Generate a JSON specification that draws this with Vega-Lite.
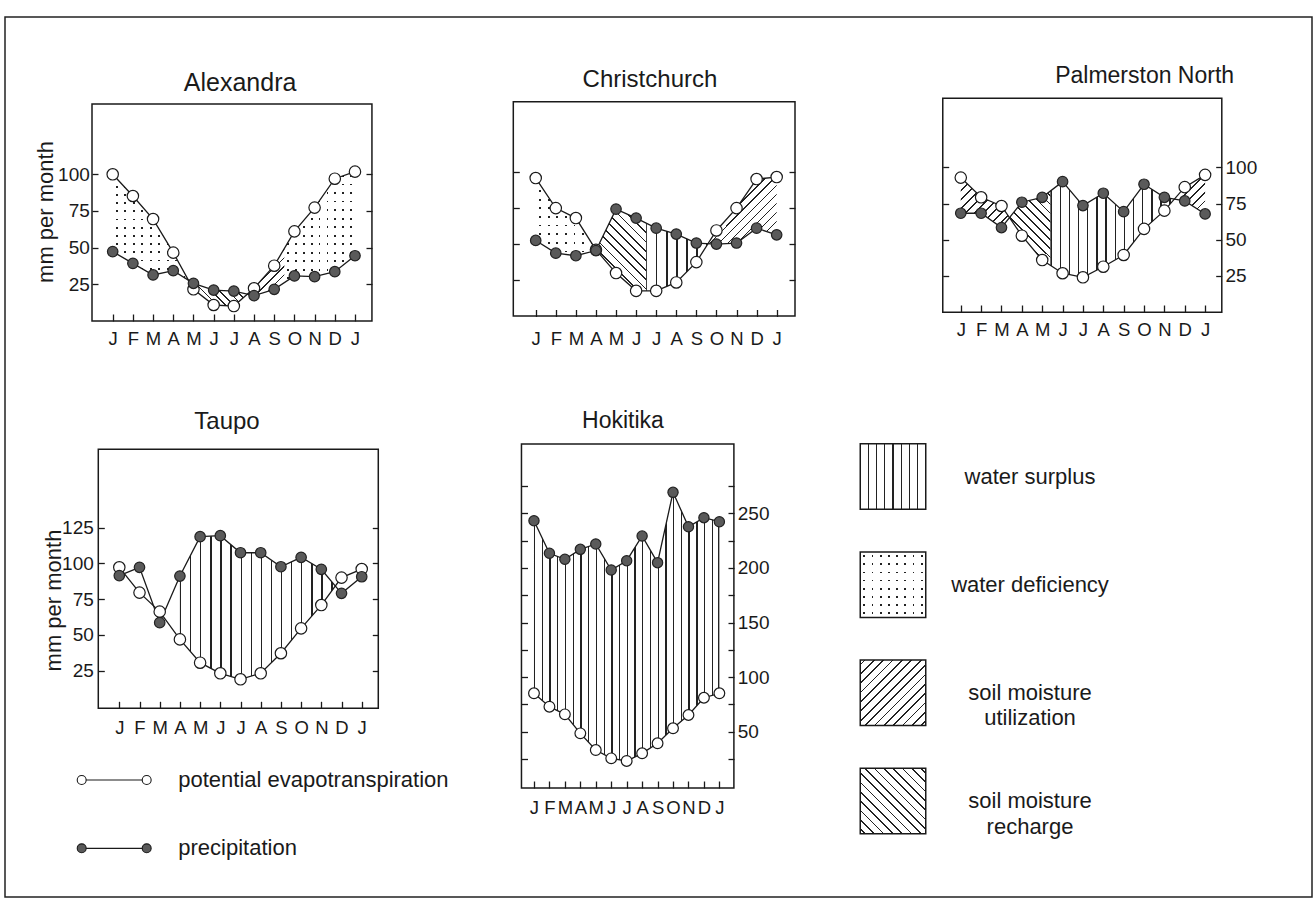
{
"$schema":"https://vega.github.io/schema/vega-lite/v6.json",
"width":1307,"height":880,
"autosize":{"type":"none"},
"padding":{"left":5,"top":17,"right":4,"bottom":2},
"background":"white",
"config":{
 "view":{"stroke":"#222","strokeWidth":1.5},
 "font":"Liberation Sans",
 "axis":{"domain":false,"grid":false,"tickColor":"#1a1a1a","tickWidth":1.3,"labelColor":"#1a1a1a","labelFont":"Liberation Sans","labelFontSize":19,"labelOverlap":false,"labelFlush":false,"titleColor":"#1a1a1a","titleFont":"Liberation Sans","titleFontWeight":"normal"},
 "axisX":{"labelFontSize":18.5},
 "text":{"color":"#1a1a1a","font":"Liberation Sans"}
},
"datasets":{
 "aDef":[{"z":"a1","m":0,"hi":100,"lo":47.3},{"z":"a1","m":1,"hi":85.2,"lo":39.3},{"z":"a1","m":2,"hi":69.5,"lo":31.4},{"z":"a1","m":3,"hi":46.6,"lo":34.3},{"z":"a1","m":3.77,"hi":27.2,"lo":27.2},{"z":"a4","m":8.5,"hi":49.4,"lo":26.2},{"z":"a4","m":9,"hi":61.1,"lo":30.7},{"z":"a4","m":10,"hi":77.3,"lo":30.2},{"z":"a4","m":11,"hi":97,"lo":33.6},{"z":"a4","m":12,"hi":101.8,"lo":44.5}],
 "cDef":[{"m":0,"hi":95.6,"lo":52.4},{"m":1,"hi":74.8,"lo":43.6},{"m":2,"hi":67.9,"lo":41.8},{"m":3,"hi":45.9,"lo":45.4}]
},
"layer":[
{
 "data":{"values":[{"m":0,"P":47.3,"PE":100},{"m":1,"P":39.3,"PE":85.2},{"m":2,"P":31.4,"PE":69.5},{"m":3,"P":34.3,"PE":46.6},{"m":4,"P":25.7,"PE":21.6},{"m":5,"P":21.1,"PE":10.9},{"m":6,"P":20.4,"PE":10.2},{"m":7,"P":17.3,"PE":22.3},{"m":8,"P":21.6,"PE":37.7},{"m":9,"P":30.7,"PE":61.1},{"m":10,"P":30.2,"PE":77.3},{"m":11,"P":33.6,"PE":97},{"m":12,"P":44.5,"PE":101.8}]},
 "layer":[
  {"data":{"values":[{"name":"Alexandra"}]},"mark":{"type":"rect","filled":false,"stroke":"#1a1a1a","strokeWidth":1.5},
   "encoding":{
    "x":{"datum":-1.025,"type":"quantitative","scale":{"domain":[-5.334,59.4],"nice":false,"zero":false},"axis":{"orient":"bottom","offset":-576,"values":[0,1,2,3,4,5,6,7,8,9,10,11,12],"labelExpr":"['J','F','M','A','M','J','J','A','S','O','N','D','J'][datum.value]","tickSize":-7,"labelPadding":15,"title":null}},
    "x2":{"datum":12.84},
    "y":{"datum":0,"type":"quantitative","scale":{"domain":[-392.64,207.23],"nice":false,"zero":false},"axis":{"orient":"left","offset":-87,"values":[25,50,75,100],"tickSize":-6,"labelPadding":8.7,"title":"mm per month","titleX":-40,"titleY":194.5,"titleAngle":270,"titleBaseline":"alphabetic","titleAlign":"center","titleFontSize":22}},
    "y2":{"datum":148}}},
  {"data":{"name":"aDef"},"mark":{"type":"area","opacity":1,"fill":{"gradient":"linear","x1":0,"y1":0,"x2":1,"y2":0,"stops":[{"offset":0,"color":"#fff"},{"offset":0.0436,"color":"#fff"},{"offset":0.0436,"color":"#222"},{"offset":0.0676,"color":"#222"},{"offset":0.0676,"color":"#fff"},{"offset":0.1547,"color":"#fff"},{"offset":0.1547,"color":"#222"},{"offset":0.1787,"color":"#222"},{"offset":0.1787,"color":"#fff"},{"offset":0.2658,"color":"#fff"},{"offset":0.2658,"color":"#222"},{"offset":0.2898,"color":"#222"},{"offset":0.2898,"color":"#fff"},{"offset":0.3769,"color":"#fff"},{"offset":0.3769,"color":"#222"},{"offset":0.4009,"color":"#222"},{"offset":0.4009,"color":"#fff"},{"offset":0.488,"color":"#fff"},{"offset":0.488,"color":"#222"},{"offset":0.512,"color":"#222"},{"offset":0.512,"color":"#fff"},{"offset":0.5991,"color":"#fff"},{"offset":0.5991,"color":"#222"},{"offset":0.6231,"color":"#222"},{"offset":0.6231,"color":"#fff"},{"offset":0.7102,"color":"#fff"},{"offset":0.7102,"color":"#222"},{"offset":0.7342,"color":"#222"},{"offset":0.7342,"color":"#fff"},{"offset":0.8213,"color":"#fff"},{"offset":0.8213,"color":"#222"},{"offset":0.8453,"color":"#222"},{"offset":0.8453,"color":"#fff"},{"offset":0.9324,"color":"#fff"},{"offset":0.9324,"color":"#222"},{"offset":0.9564,"color":"#222"},{"offset":0.9564,"color":"#fff"},{"offset":1,"color":"#fff"}]}},
   "encoding":{"x":{"field":"m","type":"quantitative","axis":null},"y":{"field":"hi","type":"quantitative","axis":null},"y2":{"field":"lo"},"detail":{"field":"z"}}},
  {"data":{"name":"aDef"},"mark":{"type":"area","opacity":1,"fill":{"gradient":"linear","x1":0,"y1":0,"x2":0,"y2":1,"stops":[{"offset":0,"color":"#fff"},{"offset":0.03,"color":"#fff"},{"offset":0.03,"color":"rgba(255,255,255,0)"},{"offset":0.047,"color":"rgba(255,255,255,0)"},{"offset":0.047,"color":"#fff"},{"offset":0.1069,"color":"#fff"},{"offset":0.1069,"color":"rgba(255,255,255,0)"},{"offset":0.1239,"color":"rgba(255,255,255,0)"},{"offset":0.1239,"color":"#fff"},{"offset":0.1838,"color":"#fff"},{"offset":0.1838,"color":"rgba(255,255,255,0)"},{"offset":0.2008,"color":"rgba(255,255,255,0)"},{"offset":0.2008,"color":"#fff"},{"offset":0.2607,"color":"#fff"},{"offset":0.2607,"color":"rgba(255,255,255,0)"},{"offset":0.2777,"color":"rgba(255,255,255,0)"},{"offset":0.2777,"color":"#fff"},{"offset":0.3377,"color":"#fff"},{"offset":0.3377,"color":"rgba(255,255,255,0)"},{"offset":0.3547,"color":"rgba(255,255,255,0)"},{"offset":0.3547,"color":"#fff"},{"offset":0.4146,"color":"#fff"},{"offset":0.4146,"color":"rgba(255,255,255,0)"},{"offset":0.4316,"color":"rgba(255,255,255,0)"},{"offset":0.4316,"color":"#fff"},{"offset":0.4915,"color":"#fff"},{"offset":0.4915,"color":"rgba(255,255,255,0)"},{"offset":0.5085,"color":"rgba(255,255,255,0)"},{"offset":0.5085,"color":"#fff"},{"offset":0.5684,"color":"#fff"},{"offset":0.5684,"color":"rgba(255,255,255,0)"},{"offset":0.5854,"color":"rgba(255,255,255,0)"},{"offset":0.5854,"color":"#fff"},{"offset":0.6453,"color":"#fff"},{"offset":0.6453,"color":"rgba(255,255,255,0)"},{"offset":0.6623,"color":"rgba(255,255,255,0)"},{"offset":0.6623,"color":"#fff"},{"offset":0.7223,"color":"#fff"},{"offset":0.7223,"color":"rgba(255,255,255,0)"},{"offset":0.7393,"color":"rgba(255,255,255,0)"},{"offset":0.7393,"color":"#fff"},{"offset":0.7992,"color":"#fff"},{"offset":0.7992,"color":"rgba(255,255,255,0)"},{"offset":0.8162,"color":"rgba(255,255,255,0)"},{"offset":0.8162,"color":"#fff"},{"offset":0.8761,"color":"#fff"},{"offset":0.8761,"color":"rgba(255,255,255,0)"},{"offset":0.8931,"color":"rgba(255,255,255,0)"},{"offset":0.8931,"color":"#fff"},{"offset":0.953,"color":"#fff"},{"offset":0.953,"color":"rgba(255,255,255,0)"},{"offset":0.97,"color":"rgba(255,255,255,0)"},{"offset":0.97,"color":"#fff"},{"offset":1,"color":"#fff"}]}},
   "encoding":{"x":{"field":"m","type":"quantitative","axis":null},"y":{"field":"hi","type":"quantitative","axis":null},"y2":{"field":"lo"},"detail":{"field":"z"}}},
  {"data":{"values":[{"m":3.77,"hi":27.2,"lo":27.2},{"m":4,"hi":25.7,"lo":21.6},{"m":5,"hi":21.1,"lo":10.9},{"m":6,"hi":20.4,"lo":10.2},{"m":6.67,"hi":18.3,"lo":18.3}]},
   "mark":{"type":"area","opacity":1,"fill":{"gradient":"linear","x1":0,"y1":1,"x2":1.207,"y2":0.485,"stops":[{"offset":0,"color":"#fff"},{"offset":0.04,"color":"#fff"},{"offset":0.04,"color":"#222"},{"offset":0.06,"color":"#222"},{"offset":0.06,"color":"#fff"},{"offset":0.14,"color":"#fff"},{"offset":0.14,"color":"#222"},{"offset":0.16,"color":"#222"},{"offset":0.16,"color":"#fff"},{"offset":0.24,"color":"#fff"},{"offset":0.24,"color":"#222"},{"offset":0.26,"color":"#222"},{"offset":0.26,"color":"#fff"},{"offset":0.34,"color":"#fff"},{"offset":0.34,"color":"#222"},{"offset":0.36,"color":"#222"},{"offset":0.36,"color":"#fff"},{"offset":0.44,"color":"#fff"},{"offset":0.44,"color":"#222"},{"offset":0.46,"color":"#222"},{"offset":0.46,"color":"#fff"},{"offset":0.54,"color":"#fff"},{"offset":0.54,"color":"#222"},{"offset":0.56,"color":"#222"},{"offset":0.56,"color":"#fff"},{"offset":0.64,"color":"#fff"},{"offset":0.64,"color":"#222"},{"offset":0.66,"color":"#222"},{"offset":0.66,"color":"#fff"},{"offset":0.74,"color":"#fff"},{"offset":0.74,"color":"#222"},{"offset":0.76,"color":"#222"},{"offset":0.76,"color":"#fff"},{"offset":0.84,"color":"#fff"},{"offset":0.84,"color":"#222"},{"offset":0.86,"color":"#222"},{"offset":0.86,"color":"#fff"},{"offset":0.94,"color":"#fff"},{"offset":0.94,"color":"#222"},{"offset":0.96,"color":"#222"},{"offset":0.96,"color":"#fff"},{"offset":1,"color":"#fff"}]}},
   "encoding":{"x":{"field":"m","type":"quantitative","axis":null},"y":{"field":"hi","type":"quantitative","axis":null},"y2":{"field":"lo"}}},
  {"data":{"values":[{"m":6.67,"hi":18.3,"lo":18.3},{"m":7,"hi":22.3,"lo":17.3},{"m":8,"hi":37.7,"lo":21.6},{"m":8.5,"hi":49.4,"lo":26.2}]},
   "mark":{"type":"area","opacity":1,"fill":{"gradient":"linear","x1":0,"y1":0,"x2":0.868,"y2":1.104,"stops":[{"offset":0,"color":"#fff"},{"offset":0.04,"color":"#fff"},{"offset":0.04,"color":"#222"},{"offset":0.06,"color":"#222"},{"offset":0.06,"color":"#fff"},{"offset":0.14,"color":"#fff"},{"offset":0.14,"color":"#222"},{"offset":0.16,"color":"#222"},{"offset":0.16,"color":"#fff"},{"offset":0.24,"color":"#fff"},{"offset":0.24,"color":"#222"},{"offset":0.26,"color":"#222"},{"offset":0.26,"color":"#fff"},{"offset":0.34,"color":"#fff"},{"offset":0.34,"color":"#222"},{"offset":0.36,"color":"#222"},{"offset":0.36,"color":"#fff"},{"offset":0.44,"color":"#fff"},{"offset":0.44,"color":"#222"},{"offset":0.46,"color":"#222"},{"offset":0.46,"color":"#fff"},{"offset":0.54,"color":"#fff"},{"offset":0.54,"color":"#222"},{"offset":0.56,"color":"#222"},{"offset":0.56,"color":"#fff"},{"offset":0.64,"color":"#fff"},{"offset":0.64,"color":"#222"},{"offset":0.66,"color":"#222"},{"offset":0.66,"color":"#fff"},{"offset":0.74,"color":"#fff"},{"offset":0.74,"color":"#222"},{"offset":0.76,"color":"#222"},{"offset":0.76,"color":"#fff"},{"offset":0.84,"color":"#fff"},{"offset":0.84,"color":"#222"},{"offset":0.86,"color":"#222"},{"offset":0.86,"color":"#fff"},{"offset":0.94,"color":"#fff"},{"offset":0.94,"color":"#222"},{"offset":0.96,"color":"#222"},{"offset":0.96,"color":"#fff"},{"offset":1,"color":"#fff"}]}},
   "encoding":{"x":{"field":"m","type":"quantitative","axis":null},"y":{"field":"hi","type":"quantitative","axis":null},"y2":{"field":"lo"}}},
  {"mark":{"type":"line","color":"#1a1a1a","strokeWidth":1.3},"encoding":{"x":{"field":"m","type":"quantitative","axis":null},"y":{"field":"PE","type":"quantitative","axis":null}}},
  {"mark":{"type":"line","color":"#1a1a1a","strokeWidth":1.3},"encoding":{"x":{"field":"m","type":"quantitative","axis":null},"y":{"field":"P","type":"quantitative","axis":{"orient":"right","offset":-940,"values":[25,50,75,100],"tickSize":-6,"labels":false,"title":null}}}},
  {"mark":{"type":"point","shape":"circle","filled":true,"fill":"#fff","stroke":"#1a1a1a","strokeWidth":1.2,"size":130,"opacity":1},"encoding":{"x":{"field":"m","type":"quantitative","axis":null},"y":{"field":"PE","type":"quantitative","axis":null}}},
  {"mark":{"type":"point","shape":"circle","filled":true,"fill":"#5a5a5a","stroke":"#222","strokeWidth":1.2,"size":110,"opacity":1},"encoding":{"x":{"field":"m","type":"quantitative","axis":null},"y":{"field":"P","type":"quantitative","axis":null}}},
  {"data":{"values":[{"name":"Alexandra"}]},"mark":{"type":"text","fontSize":25,"align":"center","baseline":"middle"},"encoding":{"x":{"datum":6.31,"type":"quantitative","axis":null},"y":{"datum":162.2,"type":"quantitative","axis":null},"text":{"field":"name"}}}
 ],
 "resolve":{"axis":{"x":"independent","y":"independent"}}
},
{
 "data":{"values":[{"m":0,"P":52.4,"PE":95.6},{"m":1,"P":43.6,"PE":74.8},{"m":2,"P":41.8,"PE":67.9},{"m":3,"P":45.4,"PE":45.9},{"m":4,"P":74.1,"PE":29.8},{"m":5,"P":67.9,"PE":17.5},{"m":6,"P":60.9,"PE":17.5},{"m":7,"P":56.8,"PE":23.3},{"m":8,"P":50.6,"PE":37.4},{"m":9,"P":49.9,"PE":59.3},{"m":10,"P":50.6,"PE":74.8},{"m":11,"P":60.9,"PE":94.9},{"m":12,"P":56.3,"PE":96.3}]},
 "layer":[
  {"data":{"values":[{"name":"Christchurch"}]},"mark":{"type":"rect","filled":false,"stroke":"#1a1a1a","strokeWidth":1.5},
   "encoding":{
    "x":{"datum":-1.116,"type":"quantitative","scale":{"domain":[-26.43,38.66],"nice":false,"zero":false},"axis":{"orient":"bottom","offset":-580.5,"values":[0,1,2,3,4,5,6,7,8,9,10,11,12],"labelExpr":"['J','F','M','A','M','J','J','A','S','O','N','D','J'][datum.value]","tickSize":-7,"labelPadding":19.7,"title":null}},
    "x2":{"datum":12.913},
    "y":{"datum":0,"type":"quantitative","scale":{"domain":[-402.29,207.13],"nice":false,"zero":false},"axis":{"orient":"left","offset":-508.3,"values":[25,50,75,100],"tickSize":-6,"labels":false,"title":null}},
    "y2":{"datum":148.5}}},
  {"data":{"name":"cDef"},"mark":{"type":"area","opacity":1,"fill":{"gradient":"linear","x1":0,"y1":0,"x2":1,"y2":0,"stops":[{"offset":0,"color":"#fff"},{"offset":0.0564,"color":"#fff"},{"offset":0.0564,"color":"#222"},{"offset":0.0864,"color":"#222"},{"offset":0.0864,"color":"#fff"},{"offset":0.1993,"color":"#fff"},{"offset":0.1993,"color":"#222"},{"offset":0.2293,"color":"#222"},{"offset":0.2293,"color":"#fff"},{"offset":0.3421,"color":"#fff"},{"offset":0.3421,"color":"#222"},{"offset":0.3721,"color":"#222"},{"offset":0.3721,"color":"#fff"},{"offset":0.485,"color":"#fff"},{"offset":0.485,"color":"#222"},{"offset":0.515,"color":"#222"},{"offset":0.515,"color":"#fff"},{"offset":0.6279,"color":"#fff"},{"offset":0.6279,"color":"#222"},{"offset":0.6579,"color":"#222"},{"offset":0.6579,"color":"#fff"},{"offset":0.7707,"color":"#fff"},{"offset":0.7707,"color":"#222"},{"offset":0.8007,"color":"#222"},{"offset":0.8007,"color":"#fff"},{"offset":0.9136,"color":"#fff"},{"offset":0.9136,"color":"#222"},{"offset":0.9436,"color":"#222"},{"offset":0.9436,"color":"#fff"},{"offset":1,"color":"#fff"}]}},
   "encoding":{"x":{"field":"m","type":"quantitative","axis":null},"y":{"field":"hi","type":"quantitative","axis":null},"y2":{"field":"lo"}}},
  {"data":{"name":"cDef"},"mark":{"type":"area","opacity":1,"fill":{"gradient":"linear","x1":0,"y1":0,"x2":0,"y2":1,"stops":[{"offset":0,"color":"#fff"},{"offset":0.0441,"color":"#fff"},{"offset":0.0441,"color":"rgba(255,255,255,0)"},{"offset":0.0671,"color":"rgba(255,255,255,0)"},{"offset":0.0671,"color":"#fff"},{"offset":0.1552,"color":"#fff"},{"offset":0.1552,"color":"rgba(255,255,255,0)"},{"offset":0.1782,"color":"rgba(255,255,255,0)"},{"offset":0.1782,"color":"#fff"},{"offset":0.2663,"color":"#fff"},{"offset":0.2663,"color":"rgba(255,255,255,0)"},{"offset":0.2893,"color":"rgba(255,255,255,0)"},{"offset":0.2893,"color":"#fff"},{"offset":0.3774,"color":"#fff"},{"offset":0.3774,"color":"rgba(255,255,255,0)"},{"offset":0.4004,"color":"rgba(255,255,255,0)"},{"offset":0.4004,"color":"#fff"},{"offset":0.4885,"color":"#fff"},{"offset":0.4885,"color":"rgba(255,255,255,0)"},{"offset":0.5115,"color":"rgba(255,255,255,0)"},{"offset":0.5115,"color":"#fff"},{"offset":0.5996,"color":"#fff"},{"offset":0.5996,"color":"rgba(255,255,255,0)"},{"offset":0.6226,"color":"rgba(255,255,255,0)"},{"offset":0.6226,"color":"#fff"},{"offset":0.7107,"color":"#fff"},{"offset":0.7107,"color":"rgba(255,255,255,0)"},{"offset":0.7337,"color":"rgba(255,255,255,0)"},{"offset":0.7337,"color":"#fff"},{"offset":0.8218,"color":"#fff"},{"offset":0.8218,"color":"rgba(255,255,255,0)"},{"offset":0.8448,"color":"rgba(255,255,255,0)"},{"offset":0.8448,"color":"#fff"},{"offset":0.9329,"color":"#fff"},{"offset":0.9329,"color":"rgba(255,255,255,0)"},{"offset":0.9559,"color":"rgba(255,255,255,0)"},{"offset":0.9559,"color":"#fff"},{"offset":1,"color":"#fff"}]}},
   "encoding":{"x":{"field":"m","type":"quantitative","axis":null},"y":{"field":"hi","type":"quantitative","axis":null},"y2":{"field":"lo"}}},
  {"data":{"values":[{"m":3,"hi":45.4,"lo":45.9},{"m":4,"hi":74.1,"lo":29.8},{"m":5,"hi":67.9,"lo":17.5},{"m":5.5,"hi":64.4,"lo":17.5}]},
   "mark":{"type":"area","opacity":1,"fill":{"gradient":"linear","x1":0,"y1":1,"x2":0.72,"y2":-0.172,"stops":[{"offset":0,"color":"#fff"},{"offset":0.0292,"color":"#fff"},{"offset":0.0292,"color":"#222"},{"offset":0.0422,"color":"#222"},{"offset":0.0422,"color":"#fff"},{"offset":0.1006,"color":"#fff"},{"offset":0.1006,"color":"#222"},{"offset":0.1136,"color":"#222"},{"offset":0.1136,"color":"#fff"},{"offset":0.1721,"color":"#fff"},{"offset":0.1721,"color":"#222"},{"offset":0.1851,"color":"#222"},{"offset":0.1851,"color":"#fff"},{"offset":0.2435,"color":"#fff"},{"offset":0.2435,"color":"#222"},{"offset":0.2565,"color":"#222"},{"offset":0.2565,"color":"#fff"},{"offset":0.3149,"color":"#fff"},{"offset":0.3149,"color":"#222"},{"offset":0.3279,"color":"#222"},{"offset":0.3279,"color":"#fff"},{"offset":0.3864,"color":"#fff"},{"offset":0.3864,"color":"#222"},{"offset":0.3994,"color":"#222"},{"offset":0.3994,"color":"#fff"},{"offset":0.4578,"color":"#fff"},{"offset":0.4578,"color":"#222"},{"offset":0.4708,"color":"#222"},{"offset":0.4708,"color":"#fff"},{"offset":0.5292,"color":"#fff"},{"offset":0.5292,"color":"#222"},{"offset":0.5422,"color":"#222"},{"offset":0.5422,"color":"#fff"},{"offset":0.6006,"color":"#fff"},{"offset":0.6006,"color":"#222"},{"offset":0.6136,"color":"#222"},{"offset":0.6136,"color":"#fff"},{"offset":0.6721,"color":"#fff"},{"offset":0.6721,"color":"#222"},{"offset":0.6851,"color":"#222"},{"offset":0.6851,"color":"#fff"},{"offset":0.7435,"color":"#fff"},{"offset":0.7435,"color":"#222"},{"offset":0.7565,"color":"#222"},{"offset":0.7565,"color":"#fff"},{"offset":0.8149,"color":"#fff"},{"offset":0.8149,"color":"#222"},{"offset":0.8279,"color":"#222"},{"offset":0.8279,"color":"#fff"},{"offset":0.8864,"color":"#fff"},{"offset":0.8864,"color":"#222"},{"offset":0.8994,"color":"#222"},{"offset":0.8994,"color":"#fff"},{"offset":0.9578,"color":"#fff"},{"offset":0.9578,"color":"#222"},{"offset":0.9708,"color":"#222"},{"offset":0.9708,"color":"#fff"},{"offset":1,"color":"#fff"}]}},
   "encoding":{"x":{"field":"m","type":"quantitative","axis":null},"y":{"field":"hi","type":"quantitative","axis":null},"y2":{"field":"lo"}}},
  {"data":{"values":[{"m":5.5,"hi":64.4,"lo":17.5},{"m":6,"hi":60.9,"lo":17.5},{"m":7,"hi":56.8,"lo":23.3},{"m":8,"hi":50.6,"lo":37.4},{"m":8.58,"hi":50.2,"lo":50.2}]},
   "mark":{"type":"area","opacity":1,"fill":{"gradient":"linear","x1":0,"y1":0,"x2":1,"y2":0,"stops":[{"offset":0,"color":"#222"},{"offset":0.021,"color":"#222"},{"offset":0.021,"color":"#fff"},{"offset":0.1623,"color":"#fff"},{"offset":0.1623,"color":"#222"},{"offset":0.1833,"color":"#222"},{"offset":0.1833,"color":"#fff"},{"offset":0.3247,"color":"#fff"},{"offset":0.3247,"color":"#222"},{"offset":0.3457,"color":"#222"},{"offset":0.3457,"color":"#fff"},{"offset":0.487,"color":"#fff"},{"offset":0.487,"color":"#222"},{"offset":0.508,"color":"#222"},{"offset":0.508,"color":"#fff"},{"offset":0.6494,"color":"#fff"},{"offset":0.6494,"color":"#222"},{"offset":0.6704,"color":"#222"},{"offset":0.6704,"color":"#fff"},{"offset":0.8117,"color":"#fff"},{"offset":0.8117,"color":"#222"},{"offset":0.8327,"color":"#222"},{"offset":0.8327,"color":"#fff"},{"offset":0.974,"color":"#fff"},{"offset":0.974,"color":"#222"},{"offset":0.995,"color":"#222"},{"offset":0.995,"color":"#fff"},{"offset":1,"color":"#fff"}]}},
   "encoding":{"x":{"field":"m","type":"quantitative","axis":null},"y":{"field":"hi","type":"quantitative","axis":null},"y2":{"field":"lo"}}},
  {"data":{"values":[{"m":8.58,"hi":50.2,"lo":50.2},{"m":9,"hi":59.3,"lo":49.9},{"m":10,"hi":74.8,"lo":50.6},{"m":11,"hi":94.9,"lo":60.9},{"m":12,"hi":96.3,"lo":56.3}]},
   "mark":{"type":"area","opacity":1,"fill":{"gradient":"linear","x1":0,"y1":0,"x2":1.012,"y2":0.987,"stops":[{"offset":0,"color":"#fff"},{"offset":0.027,"color":"#fff"},{"offset":0.027,"color":"#222"},{"offset":0.0396,"color":"#222"},{"offset":0.0396,"color":"#fff"},{"offset":0.0937,"color":"#fff"},{"offset":0.0937,"color":"#222"},{"offset":0.1063,"color":"#222"},{"offset":0.1063,"color":"#fff"},{"offset":0.1604,"color":"#fff"},{"offset":0.1604,"color":"#222"},{"offset":0.173,"color":"#222"},{"offset":0.173,"color":"#fff"},{"offset":0.227,"color":"#fff"},{"offset":0.227,"color":"#222"},{"offset":0.2396,"color":"#222"},{"offset":0.2396,"color":"#fff"},{"offset":0.2937,"color":"#fff"},{"offset":0.2937,"color":"#222"},{"offset":0.3063,"color":"#222"},{"offset":0.3063,"color":"#fff"},{"offset":0.3604,"color":"#fff"},{"offset":0.3604,"color":"#222"},{"offset":0.373,"color":"#222"},{"offset":0.373,"color":"#fff"},{"offset":0.427,"color":"#fff"},{"offset":0.427,"color":"#222"},{"offset":0.4396,"color":"#222"},{"offset":0.4396,"color":"#fff"},{"offset":0.4937,"color":"#fff"},{"offset":0.4937,"color":"#222"},{"offset":0.5063,"color":"#222"},{"offset":0.5063,"color":"#fff"},{"offset":0.5604,"color":"#fff"},{"offset":0.5604,"color":"#222"},{"offset":0.573,"color":"#222"},{"offset":0.573,"color":"#fff"},{"offset":0.627,"color":"#fff"},{"offset":0.627,"color":"#222"},{"offset":0.6396,"color":"#222"},{"offset":0.6396,"color":"#fff"},{"offset":0.6937,"color":"#fff"},{"offset":0.6937,"color":"#222"},{"offset":0.7063,"color":"#222"},{"offset":0.7063,"color":"#fff"},{"offset":0.7604,"color":"#fff"},{"offset":0.7604,"color":"#222"},{"offset":0.773,"color":"#222"},{"offset":0.773,"color":"#fff"},{"offset":0.827,"color":"#fff"},{"offset":0.827,"color":"#222"},{"offset":0.8396,"color":"#222"},{"offset":0.8396,"color":"#fff"},{"offset":0.8937,"color":"#fff"},{"offset":0.8937,"color":"#222"},{"offset":0.9063,"color":"#222"},{"offset":0.9063,"color":"#fff"},{"offset":0.9604,"color":"#fff"},{"offset":0.9604,"color":"#222"},{"offset":0.973,"color":"#222"},{"offset":0.973,"color":"#fff"},{"offset":1,"color":"#fff"}]}},
   "encoding":{"x":{"field":"m","type":"quantitative","axis":null},"y":{"field":"hi","type":"quantitative","axis":null},"y2":{"field":"lo"}}},
  {"mark":{"type":"line","color":"#1a1a1a","strokeWidth":1.3},"encoding":{"x":{"field":"m","type":"quantitative","axis":null},"y":{"field":"PE","type":"quantitative","axis":null}}},
  {"mark":{"type":"line","color":"#1a1a1a","strokeWidth":1.3},"encoding":{"x":{"field":"m","type":"quantitative","axis":null},"y":{"field":"P","type":"quantitative","axis":{"orient":"right","offset":-517,"values":[25,50,75,100],"tickSize":-6,"labels":false,"title":null}}}},
  {"mark":{"type":"point","shape":"circle","filled":true,"fill":"#fff","stroke":"#1a1a1a","strokeWidth":1.2,"size":130,"opacity":1},"encoding":{"x":{"field":"m","type":"quantitative","axis":null},"y":{"field":"PE","type":"quantitative","axis":null}}},
  {"mark":{"type":"point","shape":"circle","filled":true,"fill":"#5a5a5a","stroke":"#222","strokeWidth":1.2,"size":110,"opacity":1},"encoding":{"x":{"field":"m","type":"quantitative","axis":null},"y":{"field":"P","type":"quantitative","axis":null}}},
  {"data":{"values":[{"name":"Christchurch"}]},"mark":{"type":"text","fontSize":24,"align":"center","baseline":"middle"},"encoding":{"x":{"datum":5.69,"type":"quantitative","axis":null},"y":{"datum":163.5,"type":"quantitative","axis":null},"text":{"field":"name"}}}
 ],
 "resolve":{"axis":{"x":"independent","y":"independent"}}
},
{
 "data":{"values":[{"m":0,"P":68.3,"PE":92.9},{"m":1,"P":68.3,"PE":79.3},{"m":2,"P":58.4,"PE":73.3},{"m":3,"P":75.9,"PE":52.8},{"m":4,"P":79.3,"PE":36},{"m":5,"P":90.1,"PE":26.9},{"m":6,"P":73.6,"PE":24.1},{"m":7,"P":82.1,"PE":31.4},{"m":8,"P":69.4,"PE":39.5},{"m":9,"P":88.3,"PE":57.5},{"m":10,"P":79.3,"PE":70.1},{"m":11,"P":76.8,"PE":86.3},{"m":12,"P":67.8,"PE":94.8}]},
 "layer":[
  {"data":{"values":[{"name":"Palmerston North"}]},"mark":{"type":"rect","filled":false,"stroke":"#1a1a1a","strokeWidth":1.5},
   "encoding":{
    "x":{"datum":-0.884,"type":"quantitative","scale":{"domain":[-46.94,17.25],"nice":false,"zero":false},"axis":{"orient":"bottom","offset":-585,"values":[0,1,2,3,4,5,6,7,8,9,10,11,12],"labelExpr":"['J','F','M','A','M','J','J','A','S','O','N','D','J'][datum.value]","tickSize":-7,"labelPadding":15.8,"title":null}},
    "x2":{"datum":12.82},
    "y":{"datum":0,"type":"quantitative","scale":{"domain":[-403.48,203.7],"nice":false,"zero":false},"axis":{"orient":"left","offset":-937.7,"values":[25,50,75,100],"tickSize":-6,"labels":false,"title":null}},
    "y2":{"datum":147.6}}},
  {"data":{"values":[{"m":0,"hi":92.9,"lo":68.3},{"m":1,"hi":79.3,"lo":68.3},{"m":2,"hi":73.3,"lo":58.4},{"m":2.39,"hi":65.3,"lo":65.3}]},
   "mark":{"type":"area","opacity":1,"fill":{"gradient":"linear","x1":0,"y1":0,"x2":0.987,"y2":1.013,"stops":[{"offset":0,"color":"#fff"},{"offset":0.037,"color":"#fff"},{"offset":0.037,"color":"#222"},{"offset":0.054,"color":"#222"},{"offset":0.054,"color":"#fff"},{"offset":0.1279,"color":"#fff"},{"offset":0.1279,"color":"#222"},{"offset":0.1449,"color":"#222"},{"offset":0.1449,"color":"#fff"},{"offset":0.2188,"color":"#fff"},{"offset":0.2188,"color":"#222"},{"offset":0.2358,"color":"#222"},{"offset":0.2358,"color":"#fff"},{"offset":0.3097,"color":"#fff"},{"offset":0.3097,"color":"#222"},{"offset":0.3267,"color":"#222"},{"offset":0.3267,"color":"#fff"},{"offset":0.4006,"color":"#fff"},{"offset":0.4006,"color":"#222"},{"offset":0.4176,"color":"#222"},{"offset":0.4176,"color":"#fff"},{"offset":0.4915,"color":"#fff"},{"offset":0.4915,"color":"#222"},{"offset":0.5085,"color":"#222"},{"offset":0.5085,"color":"#fff"},{"offset":0.5824,"color":"#fff"},{"offset":0.5824,"color":"#222"},{"offset":0.5994,"color":"#222"},{"offset":0.5994,"color":"#fff"},{"offset":0.6733,"color":"#fff"},{"offset":0.6733,"color":"#222"},{"offset":0.6903,"color":"#222"},{"offset":0.6903,"color":"#fff"},{"offset":0.7642,"color":"#fff"},{"offset":0.7642,"color":"#222"},{"offset":0.7812,"color":"#222"},{"offset":0.7812,"color":"#fff"},{"offset":0.8551,"color":"#fff"},{"offset":0.8551,"color":"#222"},{"offset":0.8721,"color":"#222"},{"offset":0.8721,"color":"#fff"},{"offset":0.946,"color":"#fff"},{"offset":0.946,"color":"#222"},{"offset":0.963,"color":"#222"},{"offset":0.963,"color":"#fff"},{"offset":1,"color":"#fff"}]}},
   "encoding":{"x":{"field":"m","type":"quantitative","axis":null},"y":{"field":"hi","type":"quantitative","axis":null},"y2":{"field":"lo"}}},
  {"data":{"values":[{"m":2.39,"hi":65.3,"lo":65.3},{"m":3,"hi":75.9,"lo":52.8},{"m":4,"hi":79.3,"lo":36},{"m":4.4,"hi":83.6,"lo":32.4}]},
   "mark":{"type":"area","opacity":1,"fill":{"gradient":"linear","x1":0,"y1":1,"x2":0.655,"y2":-0.189,"stops":[{"offset":0,"color":"#fff"},{"offset":0.031,"color":"#fff"},{"offset":0.031,"color":"#222"},{"offset":0.046,"color":"#222"},{"offset":0.046,"color":"#fff"},{"offset":0.1079,"color":"#fff"},{"offset":0.1079,"color":"#222"},{"offset":0.1229,"color":"#222"},{"offset":0.1229,"color":"#fff"},{"offset":0.1848,"color":"#fff"},{"offset":0.1848,"color":"#222"},{"offset":0.1998,"color":"#222"},{"offset":0.1998,"color":"#fff"},{"offset":0.2617,"color":"#fff"},{"offset":0.2617,"color":"#222"},{"offset":0.2767,"color":"#222"},{"offset":0.2767,"color":"#fff"},{"offset":0.3387,"color":"#fff"},{"offset":0.3387,"color":"#222"},{"offset":0.3537,"color":"#222"},{"offset":0.3537,"color":"#fff"},{"offset":0.4156,"color":"#fff"},{"offset":0.4156,"color":"#222"},{"offset":0.4306,"color":"#222"},{"offset":0.4306,"color":"#fff"},{"offset":0.4925,"color":"#fff"},{"offset":0.4925,"color":"#222"},{"offset":0.5075,"color":"#222"},{"offset":0.5075,"color":"#fff"},{"offset":0.5694,"color":"#fff"},{"offset":0.5694,"color":"#222"},{"offset":0.5844,"color":"#222"},{"offset":0.5844,"color":"#fff"},{"offset":0.6463,"color":"#fff"},{"offset":0.6463,"color":"#222"},{"offset":0.6613,"color":"#222"},{"offset":0.6613,"color":"#fff"},{"offset":0.7233,"color":"#fff"},{"offset":0.7233,"color":"#222"},{"offset":0.7383,"color":"#222"},{"offset":0.7383,"color":"#fff"},{"offset":0.8002,"color":"#fff"},{"offset":0.8002,"color":"#222"},{"offset":0.8152,"color":"#222"},{"offset":0.8152,"color":"#fff"},{"offset":0.8771,"color":"#fff"},{"offset":0.8771,"color":"#222"},{"offset":0.8921,"color":"#222"},{"offset":0.8921,"color":"#fff"},{"offset":0.954,"color":"#fff"},{"offset":0.954,"color":"#222"},{"offset":0.969,"color":"#222"},{"offset":0.969,"color":"#fff"},{"offset":1,"color":"#fff"}]}},
   "encoding":{"x":{"field":"m","type":"quantitative","axis":null},"y":{"field":"hi","type":"quantitative","axis":null},"y2":{"field":"lo"}}},
  {"data":{"values":[{"m":4.4,"hi":83.6,"lo":32.4},{"m":5,"hi":90.1,"lo":26.9},{"m":6,"hi":73.6,"lo":24.1},{"m":7,"hi":82.1,"lo":31.4},{"m":8,"hi":69.4,"lo":39.5},{"m":9,"hi":88.3,"lo":57.5},{"m":10,"hi":79.3,"lo":70.1},{"m":10.49,"hi":78.1,"lo":78.1}]},
   "mark":{"type":"area","opacity":1,"fill":{"gradient":"linear","x1":0,"y1":0,"x2":1,"y2":0,"stops":[{"offset":0,"color":"#222"},{"offset":0.011,"color":"#222"},{"offset":0.011,"color":"#fff"},{"offset":0.0739,"color":"#fff"},{"offset":0.0739,"color":"#222"},{"offset":0.0849,"color":"#222"},{"offset":0.0849,"color":"#fff"},{"offset":0.1478,"color":"#fff"},{"offset":0.1478,"color":"#222"},{"offset":0.1588,"color":"#222"},{"offset":0.1588,"color":"#fff"},{"offset":0.2217,"color":"#fff"},{"offset":0.2217,"color":"#222"},{"offset":0.2327,"color":"#222"},{"offset":0.2327,"color":"#fff"},{"offset":0.2956,"color":"#fff"},{"offset":0.2956,"color":"#222"},{"offset":0.3066,"color":"#222"},{"offset":0.3066,"color":"#fff"},{"offset":0.3695,"color":"#fff"},{"offset":0.3695,"color":"#222"},{"offset":0.3805,"color":"#222"},{"offset":0.3805,"color":"#fff"},{"offset":0.4434,"color":"#fff"},{"offset":0.4434,"color":"#222"},{"offset":0.4544,"color":"#222"},{"offset":0.4544,"color":"#fff"},{"offset":0.5173,"color":"#fff"},{"offset":0.5173,"color":"#222"},{"offset":0.5283,"color":"#222"},{"offset":0.5283,"color":"#fff"},{"offset":0.5912,"color":"#fff"},{"offset":0.5912,"color":"#222"},{"offset":0.6022,"color":"#222"},{"offset":0.6022,"color":"#fff"},{"offset":0.6651,"color":"#fff"},{"offset":0.6651,"color":"#222"},{"offset":0.6761,"color":"#222"},{"offset":0.6761,"color":"#fff"},{"offset":0.739,"color":"#fff"},{"offset":0.739,"color":"#222"},{"offset":0.75,"color":"#222"},{"offset":0.75,"color":"#fff"},{"offset":0.8129,"color":"#fff"},{"offset":0.8129,"color":"#222"},{"offset":0.8239,"color":"#222"},{"offset":0.8239,"color":"#fff"},{"offset":0.8868,"color":"#fff"},{"offset":0.8868,"color":"#222"},{"offset":0.8978,"color":"#222"},{"offset":0.8978,"color":"#fff"},{"offset":0.9607,"color":"#fff"},{"offset":0.9607,"color":"#222"},{"offset":0.9717,"color":"#222"},{"offset":0.9717,"color":"#fff"},{"offset":1,"color":"#fff"}]}},
   "encoding":{"x":{"field":"m","type":"quantitative","axis":null},"y":{"field":"hi","type":"quantitative","axis":null},"y2":{"field":"lo"}}},
  {"data":{"values":[{"m":10.49,"hi":78.1,"lo":78.1},{"m":11,"hi":86.3,"lo":76.8},{"m":12,"hi":94.8,"lo":67.8}]},
   "mark":{"type":"area","opacity":1,"fill":{"gradient":"linear","x1":0,"y1":0,"x2":0.869,"y2":1.104,"stops":[{"offset":0,"color":"#fff"},{"offset":0.0505,"color":"#fff"},{"offset":0.0505,"color":"#222"},{"offset":0.0745,"color":"#222"},{"offset":0.0745,"color":"#fff"},{"offset":0.1755,"color":"#fff"},{"offset":0.1755,"color":"#222"},{"offset":0.1995,"color":"#222"},{"offset":0.1995,"color":"#fff"},{"offset":0.3005,"color":"#fff"},{"offset":0.3005,"color":"#222"},{"offset":0.3245,"color":"#222"},{"offset":0.3245,"color":"#fff"},{"offset":0.4255,"color":"#fff"},{"offset":0.4255,"color":"#222"},{"offset":0.4495,"color":"#222"},{"offset":0.4495,"color":"#fff"},{"offset":0.5505,"color":"#fff"},{"offset":0.5505,"color":"#222"},{"offset":0.5745,"color":"#222"},{"offset":0.5745,"color":"#fff"},{"offset":0.6755,"color":"#fff"},{"offset":0.6755,"color":"#222"},{"offset":0.6995,"color":"#222"},{"offset":0.6995,"color":"#fff"},{"offset":0.8005,"color":"#fff"},{"offset":0.8005,"color":"#222"},{"offset":0.8245,"color":"#222"},{"offset":0.8245,"color":"#fff"},{"offset":0.9255,"color":"#fff"},{"offset":0.9255,"color":"#222"},{"offset":0.9495,"color":"#222"},{"offset":0.9495,"color":"#fff"},{"offset":1,"color":"#fff"}]}},
   "encoding":{"x":{"field":"m","type":"quantitative","axis":null},"y":{"field":"hi","type":"quantitative","axis":null},"y2":{"field":"lo"}}},
  {"mark":{"type":"line","color":"#1a1a1a","strokeWidth":1.3},"encoding":{"x":{"field":"m","type":"quantitative","axis":null},"y":{"field":"PE","type":"quantitative","axis":null}}},
  {"mark":{"type":"line","color":"#1a1a1a","strokeWidth":1.3},"encoding":{"x":{"field":"m","type":"quantitative","axis":null},"y":{"field":"P","type":"quantitative","axis":{"orient":"right","offset":-90.3,"values":[25,50,75,100],"tickSize":-6,"labelPadding":9.3,"title":null}}}},
  {"mark":{"type":"point","shape":"circle","filled":true,"fill":"#fff","stroke":"#1a1a1a","strokeWidth":1.2,"size":130,"opacity":1},"encoding":{"x":{"field":"m","type":"quantitative","axis":null},"y":{"field":"PE","type":"quantitative","axis":null}}},
  {"mark":{"type":"point","shape":"circle","filled":true,"fill":"#5a5a5a","stroke":"#222","strokeWidth":1.2,"size":110,"opacity":1},"encoding":{"x":{"field":"m","type":"quantitative","axis":null},"y":{"field":"P","type":"quantitative","axis":null}}},
  {"data":{"values":[{"name":"Palmerston North"}]},"mark":{"type":"text","fontSize":23,"align":"center","baseline":"middle"},"encoding":{"x":{"datum":9.03,"type":"quantitative","axis":null},"y":{"datum":163,"type":"quantitative","axis":null},"text":{"field":"name"}}}
 ],
 "resolve":{"axis":{"x":"independent","y":"independent"}}
},
{
 "data":{"values":[{"m":0,"P":91.5,"PE":97.3},{"m":1,"P":97.3,"PE":79.6},{"m":2,"P":58.6,"PE":66.3},{"m":3,"P":91.2,"PE":46.9},{"m":4,"P":118.7,"PE":30.6},{"m":5,"P":119.4,"PE":23.2},{"m":6,"P":107.5,"PE":19},{"m":7,"P":107.5,"PE":23.2},{"m":8,"P":97.7,"PE":37.2},{"m":9,"P":104.3,"PE":54.6},{"m":10,"P":95.9,"PE":70.9},{"m":11,"P":79.1,"PE":90.1},{"m":12,"P":90.7,"PE":96.1}]},
 "layer":[
  {"data":{"values":[{"name":"Taupo"}]},"mark":{"type":"rect","filled":false,"stroke":"#1a1a1a","strokeWidth":1.5},
   "encoding":{
    "x":{"datum":-1.04,"type":"quantitative","scale":{"domain":[-5.658,59.04],"nice":false,"zero":false},"axis":{"orient":"bottom","offset":-188.7,"values":[0,1,2,3,4,5,6,7,8,9,10,11,12],"labelExpr":"['J','F','M','A','M','J','J','A','S','O','N','D','J'][datum.value]","tickSize":-7,"labelPadding":17,"title":null}},
    "x2":{"datum":12.82},
    "y":{"datum":-1.3,"type":"quantitative","scale":{"domain":[-133.25,482.13],"nice":false,"zero":false},"axis":{"orient":"left","offset":-93.3,"values":[25,50,75,100,125],"tickSize":-6,"labelPadding":11,"title":"mm per month","titleX":-38,"titleY":583,"titleAngle":270,"titleBaseline":"alphabetic","titleAlign":"center","titleFontSize":22}},
    "y2":{"datum":179.8}}},
  {"data":{"values":[{"m":3,"hi":91.2,"lo":46.9},{"m":4,"hi":118.7,"lo":30.6},{"m":5,"hi":119.4,"lo":23.2},{"m":6,"hi":107.5,"lo":19},{"m":7,"hi":107.5,"lo":23.2},{"m":8,"hi":97.7,"lo":37.2},{"m":9,"hi":104.3,"lo":54.6},{"m":10,"hi":95.9,"lo":70.9},{"m":10.69,"hi":84.2,"lo":84.2}]},
   "mark":{"type":"area","opacity":1,"fill":{"gradient":"linear","x1":0,"y1":0,"x2":1,"y2":0,"stops":[{"offset":0,"color":"#222"},{"offset":0.0085,"color":"#222"},{"offset":0.0085,"color":"#fff"},{"offset":0.065,"color":"#fff"},{"offset":0.065,"color":"#222"},{"offset":0.0735,"color":"#222"},{"offset":0.0735,"color":"#fff"},{"offset":0.13,"color":"#fff"},{"offset":0.13,"color":"#222"},{"offset":0.1385,"color":"#222"},{"offset":0.1385,"color":"#fff"},{"offset":0.1951,"color":"#fff"},{"offset":0.1951,"color":"#222"},{"offset":0.2036,"color":"#222"},{"offset":0.2036,"color":"#fff"},{"offset":0.2601,"color":"#fff"},{"offset":0.2601,"color":"#222"},{"offset":0.2686,"color":"#222"},{"offset":0.2686,"color":"#fff"},{"offset":0.3251,"color":"#fff"},{"offset":0.3251,"color":"#222"},{"offset":0.3336,"color":"#222"},{"offset":0.3336,"color":"#fff"},{"offset":0.3901,"color":"#fff"},{"offset":0.3901,"color":"#222"},{"offset":0.3986,"color":"#222"},{"offset":0.3986,"color":"#fff"},{"offset":0.4551,"color":"#fff"},{"offset":0.4551,"color":"#222"},{"offset":0.4636,"color":"#222"},{"offset":0.4636,"color":"#fff"},{"offset":0.5202,"color":"#fff"},{"offset":0.5202,"color":"#222"},{"offset":0.5287,"color":"#222"},{"offset":0.5287,"color":"#fff"},{"offset":0.5852,"color":"#fff"},{"offset":0.5852,"color":"#222"},{"offset":0.5937,"color":"#222"},{"offset":0.5937,"color":"#fff"},{"offset":0.6502,"color":"#fff"},{"offset":0.6502,"color":"#222"},{"offset":0.6587,"color":"#222"},{"offset":0.6587,"color":"#fff"},{"offset":0.7152,"color":"#fff"},{"offset":0.7152,"color":"#222"},{"offset":0.7237,"color":"#222"},{"offset":0.7237,"color":"#fff"},{"offset":0.7802,"color":"#fff"},{"offset":0.7802,"color":"#222"},{"offset":0.7887,"color":"#222"},{"offset":0.7887,"color":"#fff"},{"offset":0.8453,"color":"#fff"},{"offset":0.8453,"color":"#222"},{"offset":0.8538,"color":"#222"},{"offset":0.8538,"color":"#fff"},{"offset":0.9103,"color":"#fff"},{"offset":0.9103,"color":"#222"},{"offset":0.9188,"color":"#222"},{"offset":0.9188,"color":"#fff"},{"offset":0.9753,"color":"#fff"},{"offset":0.9753,"color":"#222"},{"offset":0.9838,"color":"#222"},{"offset":0.9838,"color":"#fff"},{"offset":1,"color":"#fff"}]}},
   "encoding":{"x":{"field":"m","type":"quantitative","axis":null},"y":{"field":"hi","type":"quantitative","axis":null},"y2":{"field":"lo"}}},
  {"mark":{"type":"line","color":"#1a1a1a","strokeWidth":1.3},"encoding":{"x":{"field":"m","type":"quantitative","axis":null},"y":{"field":"PE","type":"quantitative","axis":null}}},
  {"mark":{"type":"line","color":"#1a1a1a","strokeWidth":1.3},"encoding":{"x":{"field":"m","type":"quantitative","axis":null},"y":{"field":"P","type":"quantitative","axis":{"orient":"right","offset":-933.7,"values":[25,50,75,100,125],"tickSize":-6,"labels":false,"title":null}}}},
  {"mark":{"type":"point","shape":"circle","filled":true,"fill":"#fff","stroke":"#1a1a1a","strokeWidth":1.2,"size":130,"opacity":1},"encoding":{"x":{"field":"m","type":"quantitative","axis":null},"y":{"field":"PE","type":"quantitative","axis":null}}},
  {"mark":{"type":"point","shape":"circle","filled":true,"fill":"#5a5a5a","stroke":"#222","strokeWidth":1.2,"size":110,"opacity":1},"encoding":{"x":{"field":"m","type":"quantitative","axis":null},"y":{"field":"P","type":"quantitative","axis":null}}},
  {"data":{"values":[{"name":"Taupo"}]},"mark":{"type":"text","fontSize":24,"align":"center","baseline":"middle"},"encoding":{"x":{"datum":5.33,"type":"quantitative","axis":null},"y":{"datum":198.9,"type":"quantitative","axis":null},"text":{"field":"name"}}}
 ],
 "resolve":{"axis":{"x":"independent","y":"independent"}}
},
{
 "data":{"values":[{"m":0,"P":243.2,"PE":85.2},{"m":1,"P":213.4,"PE":72.9},{"m":2,"P":207.9,"PE":65.9},{"m":3,"P":217,"PE":48.5},{"m":4,"P":221.9,"PE":33.2},{"m":5,"P":198.1,"PE":25.6},{"m":6,"P":206.6,"PE":23.2},{"m":7,"P":229.2,"PE":30.2},{"m":8,"P":204.8,"PE":39.4},{"m":9,"P":269.2,"PE":53.1},{"m":10,"P":237.7,"PE":65.3},{"m":11,"P":246,"PE":81.1},{"m":12,"P":242.3,"PE":85.2}]},
 "layer":[
  {"data":{"values":[{"name":"Hokitika"}]},"mark":{"type":"rect","filled":false,"stroke":"#1a1a1a","strokeWidth":1.5},
   "encoding":{
    "x":{"datum":-0.81,"type":"quantitative","scale":{"domain":[-34.24,50.36],"nice":false,"zero":false},"axis":{"orient":"bottom","offset":-109,"values":[0,1,2,3,4,5,6,7,8,9,10,11,12],"labelExpr":"['J','F','M','A','M','J','J','A','S','O','N','D','J'][datum.value]","tickSize":-7,"labelPadding":17.5,"title":null}},
    "x2":{"datum":12.94},
    "y":{"datum":-1.5,"type":"quantitative","scale":{"domain":[-101.37,704.5],"nice":false,"zero":false},"axis":{"orient":"left","offset":-516.5,"values":[25,50,75,100,125,150,175,200,225,250,275],"tickSize":-6,"labels":false,"title":null}},
    "y2":{"datum":313.5}}},
  {"mark":{"type":"area","opacity":1,"fill":{"gradient":"linear","x1":0,"y1":0,"x2":1,"y2":0,"stops":[{"offset":0,"color":"#222"},{"offset":0.0072,"color":"#222"},{"offset":0.0072,"color":"#fff"},{"offset":0.0417,"color":"#fff"},{"offset":0.0417,"color":"#222"},{"offset":0.0489,"color":"#222"},{"offset":0.0489,"color":"#fff"},{"offset":0.0833,"color":"#fff"},{"offset":0.0833,"color":"#222"},{"offset":0.0905,"color":"#222"},{"offset":0.0905,"color":"#fff"},{"offset":0.125,"color":"#fff"},{"offset":0.125,"color":"#222"},{"offset":0.1322,"color":"#222"},{"offset":0.1322,"color":"#fff"},{"offset":0.1667,"color":"#fff"},{"offset":0.1667,"color":"#222"},{"offset":0.1739,"color":"#222"},{"offset":0.1739,"color":"#fff"},{"offset":0.2083,"color":"#fff"},{"offset":0.2083,"color":"#222"},{"offset":0.2155,"color":"#222"},{"offset":0.2155,"color":"#fff"},{"offset":0.25,"color":"#fff"},{"offset":0.25,"color":"#222"},{"offset":0.2572,"color":"#222"},{"offset":0.2572,"color":"#fff"},{"offset":0.2917,"color":"#fff"},{"offset":0.2917,"color":"#222"},{"offset":0.2989,"color":"#222"},{"offset":0.2989,"color":"#fff"},{"offset":0.3333,"color":"#fff"},{"offset":0.3333,"color":"#222"},{"offset":0.3405,"color":"#222"},{"offset":0.3405,"color":"#fff"},{"offset":0.375,"color":"#fff"},{"offset":0.375,"color":"#222"},{"offset":0.3822,"color":"#222"},{"offset":0.3822,"color":"#fff"},{"offset":0.4167,"color":"#fff"},{"offset":0.4167,"color":"#222"},{"offset":0.4239,"color":"#222"},{"offset":0.4239,"color":"#fff"},{"offset":0.4583,"color":"#fff"},{"offset":0.4583,"color":"#222"},{"offset":0.4655,"color":"#222"},{"offset":0.4655,"color":"#fff"},{"offset":0.5,"color":"#fff"},{"offset":0.5,"color":"#222"},{"offset":0.5072,"color":"#222"},{"offset":0.5072,"color":"#fff"},{"offset":0.5417,"color":"#fff"},{"offset":0.5417,"color":"#222"},{"offset":0.5489,"color":"#222"},{"offset":0.5489,"color":"#fff"},{"offset":0.5833,"color":"#fff"},{"offset":0.5833,"color":"#222"},{"offset":0.5905,"color":"#222"},{"offset":0.5905,"color":"#fff"},{"offset":0.625,"color":"#fff"},{"offset":0.625,"color":"#222"},{"offset":0.6322,"color":"#222"},{"offset":0.6322,"color":"#fff"},{"offset":0.6667,"color":"#fff"},{"offset":0.6667,"color":"#222"},{"offset":0.6739,"color":"#222"},{"offset":0.6739,"color":"#fff"},{"offset":0.7083,"color":"#fff"},{"offset":0.7083,"color":"#222"},{"offset":0.7155,"color":"#222"},{"offset":0.7155,"color":"#fff"},{"offset":0.75,"color":"#fff"},{"offset":0.75,"color":"#222"},{"offset":0.7572,"color":"#222"},{"offset":0.7572,"color":"#fff"},{"offset":0.7917,"color":"#fff"},{"offset":0.7917,"color":"#222"},{"offset":0.7989,"color":"#222"},{"offset":0.7989,"color":"#fff"},{"offset":0.8333,"color":"#fff"},{"offset":0.8333,"color":"#222"},{"offset":0.8405,"color":"#222"},{"offset":0.8405,"color":"#fff"},{"offset":0.875,"color":"#fff"},{"offset":0.875,"color":"#222"},{"offset":0.8822,"color":"#222"},{"offset":0.8822,"color":"#fff"},{"offset":0.9167,"color":"#fff"},{"offset":0.9167,"color":"#222"},{"offset":0.9239,"color":"#222"},{"offset":0.9239,"color":"#fff"},{"offset":0.9583,"color":"#fff"},{"offset":0.9583,"color":"#222"},{"offset":0.9655,"color":"#222"},{"offset":0.9655,"color":"#fff"},{"offset":0.9928,"color":"#fff"},{"offset":0.9928,"color":"#222"},{"offset":1,"color":"#222"}]}},
   "encoding":{"x":{"field":"m","type":"quantitative","axis":null},"y":{"field":"P","type":"quantitative","axis":null},"y2":{"field":"PE"}}},
  {"mark":{"type":"line","color":"#1a1a1a","strokeWidth":1.3},"encoding":{"x":{"field":"m","type":"quantitative","axis":null},"y":{"field":"PE","type":"quantitative","axis":null}}},
  {"mark":{"type":"line","color":"#1a1a1a","strokeWidth":1.3},"encoding":{"x":{"field":"m","type":"quantitative","axis":null},"y":{"field":"P","type":"quantitative","axis":{"orient":"right","offset":-578,"values":[25,50,75,100,125,150,175,200,225,250,275],"labelExpr":"datum.value % 50 === 0 ? datum.label : ''","tickSize":-6,"labelPadding":9.3,"title":null}}}},
  {"mark":{"type":"point","shape":"circle","filled":true,"fill":"#fff","stroke":"#1a1a1a","strokeWidth":1.2,"size":115,"opacity":1},"encoding":{"x":{"field":"m","type":"quantitative","axis":null},"y":{"field":"PE","type":"quantitative","axis":null}}},
  {"mark":{"type":"point","shape":"circle","filled":true,"fill":"#5a5a5a","stroke":"#222","strokeWidth":1.2,"size":105,"opacity":1},"encoding":{"x":{"field":"m","type":"quantitative","axis":null},"y":{"field":"P","type":"quantitative","axis":null}}},
  {"data":{"values":[{"name":"Hokitika"}]},"mark":{"type":"text","fontSize":23,"align":"center","baseline":"middle"},"encoding":{"x":{"datum":5.76,"type":"quantitative","axis":null},"y":{"datum":334.5,"type":"quantitative","axis":null},"text":{"field":"name"}}}
 ],
 "resolve":{"axis":{"x":"independent","y":"independent"}}
},
{
 "data":{"values":[{"t":"PE","label":"potential evapotranspiration"},{"t":"P","label":"precipitation"}]},
 "encoding":{"y":{"field":"label","type":"nominal","scale":{"type":"point","domain":["potential evapotranspiration","precipitation"],"range":[763,831.3],"padding":0},"axis":null}},
 "layer":[
  {"mark":{"type":"rule","color":"#1a1a1a","strokeWidth":1.2},"encoding":{"x":{"datum":0,"type":"quantitative","scale":{"domain":[-1.18,18.93],"nice":false,"zero":false},"axis":null},"x2":{"datum":1}}},
  {"mark":{"type":"point","shape":"circle","filled":true,"size":80,"stroke":"#1a1a1a","strokeWidth":1.1,"opacity":1},"encoding":{"x":{"datum":0,"type":"quantitative","axis":null},"fill":{"condition":{"test":"datum.t == 'P'","value":"#5a5a5a"},"value":"#fff"}}},
  {"mark":{"type":"point","shape":"circle","filled":true,"size":80,"stroke":"#1a1a1a","strokeWidth":1.1,"opacity":1},"encoding":{"x":{"datum":1,"type":"quantitative","axis":null},"fill":{"condition":{"test":"datum.t == 'P'","value":"#5a5a5a"},"value":"#fff"}}},
  {"mark":{"type":"text","align":"left","baseline":"middle","fontSize":22},"encoding":{"x":{"datum":1.486,"type":"quantitative","axis":null},"text":{"field":"label"}}}
 ]
},
{
 "data":{"values":[{"k":"surplus","label":"water surplus"},{"k":"def","label":"water deficiency"},{"k":"util","label":"soil moisture\nutilization"},{"k":"rech","label":"soil moisture\nrecharge"}]},
 "encoding":{"y":{"field":"k","type":"nominal","scale":{"type":"point","domain":["surplus","def","util","rech"],"range":[459.5,784],"padding":0},"axis":null}},
 "layer":[
  {"transform":[{"filter":"datum.k == 'surplus'"}],"mark":{"type":"point","shape":"square","size":4290,"filled":true,"opacity":1,"stroke":"#1a1a1a","strokeWidth":1.5,"fill":{"gradient":"linear","x1":0,"y1":0,"x2":1,"y2":0,"stops":[{"offset":0,"color":"#fff"},{"offset":0.115,"color":"#fff"},{"offset":0.115,"color":"#222"},{"offset":0.135,"color":"#222"},{"offset":0.135,"color":"#fff"},{"offset":0.24,"color":"#fff"},{"offset":0.24,"color":"#222"},{"offset":0.26,"color":"#222"},{"offset":0.26,"color":"#fff"},{"offset":0.365,"color":"#fff"},{"offset":0.365,"color":"#222"},{"offset":0.385,"color":"#222"},{"offset":0.385,"color":"#fff"},{"offset":0.49,"color":"#fff"},{"offset":0.49,"color":"#222"},{"offset":0.51,"color":"#222"},{"offset":0.51,"color":"#fff"},{"offset":0.615,"color":"#fff"},{"offset":0.615,"color":"#222"},{"offset":0.635,"color":"#222"},{"offset":0.635,"color":"#fff"},{"offset":0.74,"color":"#fff"},{"offset":0.74,"color":"#222"},{"offset":0.76,"color":"#222"},{"offset":0.76,"color":"#fff"},{"offset":0.865,"color":"#fff"},{"offset":0.865,"color":"#222"},{"offset":0.885,"color":"#222"},{"offset":0.885,"color":"#fff"},{"offset":1,"color":"#fff"}]}},
   "encoding":{"x":{"datum":"sw","type":"nominal","scale":{"type":"point","domain":["sw","tx"],"range":[888,1025],"padding":0},"axis":null}}},
  {"transform":[{"filter":"datum.k == 'def'"}],"mark":{"type":"point","shape":"square","size":4290,"filled":true,"opacity":1,"strokeWidth":0,"fill":{"gradient":"linear","x1":0,"y1":0,"x2":1,"y2":0,"stops":[{"offset":0,"color":"#fff"},{"offset":0.049,"color":"#fff"},{"offset":0.049,"color":"#222"},{"offset":0.076,"color":"#222"},{"offset":0.076,"color":"#fff"},{"offset":0.174,"color":"#fff"},{"offset":0.174,"color":"#222"},{"offset":0.201,"color":"#222"},{"offset":0.201,"color":"#fff"},{"offset":0.299,"color":"#fff"},{"offset":0.299,"color":"#222"},{"offset":0.326,"color":"#222"},{"offset":0.326,"color":"#fff"},{"offset":0.424,"color":"#fff"},{"offset":0.424,"color":"#222"},{"offset":0.451,"color":"#222"},{"offset":0.451,"color":"#fff"},{"offset":0.549,"color":"#fff"},{"offset":0.549,"color":"#222"},{"offset":0.576,"color":"#222"},{"offset":0.576,"color":"#fff"},{"offset":0.674,"color":"#fff"},{"offset":0.674,"color":"#222"},{"offset":0.701,"color":"#222"},{"offset":0.701,"color":"#fff"},{"offset":0.799,"color":"#fff"},{"offset":0.799,"color":"#222"},{"offset":0.826,"color":"#222"},{"offset":0.826,"color":"#fff"},{"offset":0.924,"color":"#fff"},{"offset":0.924,"color":"#222"},{"offset":0.951,"color":"#222"},{"offset":0.951,"color":"#fff"},{"offset":1,"color":"#fff"}]}},
   "encoding":{"x":{"datum":"sw","type":"nominal","axis":null}}},
  {"transform":[{"filter":"datum.k == 'def'"}],"mark":{"type":"point","shape":"square","size":4290,"filled":true,"opacity":1,"stroke":"#1a1a1a","strokeWidth":1.5,"fill":{"gradient":"linear","x1":0,"y1":0,"x2":0,"y2":1,"stops":[{"offset":0,"color":"#fff"},{"offset":0.049,"color":"#fff"},{"offset":0.049,"color":"rgba(255,255,255,0)"},{"offset":0.076,"color":"rgba(255,255,255,0)"},{"offset":0.076,"color":"#fff"},{"offset":0.174,"color":"#fff"},{"offset":0.174,"color":"rgba(255,255,255,0)"},{"offset":0.201,"color":"rgba(255,255,255,0)"},{"offset":0.201,"color":"#fff"},{"offset":0.299,"color":"#fff"},{"offset":0.299,"color":"rgba(255,255,255,0)"},{"offset":0.326,"color":"rgba(255,255,255,0)"},{"offset":0.326,"color":"#fff"},{"offset":0.424,"color":"#fff"},{"offset":0.424,"color":"rgba(255,255,255,0)"},{"offset":0.451,"color":"rgba(255,255,255,0)"},{"offset":0.451,"color":"#fff"},{"offset":0.549,"color":"#fff"},{"offset":0.549,"color":"rgba(255,255,255,0)"},{"offset":0.576,"color":"rgba(255,255,255,0)"},{"offset":0.576,"color":"#fff"},{"offset":0.674,"color":"#fff"},{"offset":0.674,"color":"rgba(255,255,255,0)"},{"offset":0.701,"color":"rgba(255,255,255,0)"},{"offset":0.701,"color":"#fff"},{"offset":0.799,"color":"#fff"},{"offset":0.799,"color":"rgba(255,255,255,0)"},{"offset":0.826,"color":"rgba(255,255,255,0)"},{"offset":0.826,"color":"#fff"},{"offset":0.924,"color":"#fff"},{"offset":0.924,"color":"rgba(255,255,255,0)"},{"offset":0.951,"color":"rgba(255,255,255,0)"},{"offset":0.951,"color":"#fff"},{"offset":1,"color":"#fff"}]}},
   "encoding":{"x":{"datum":"sw","type":"nominal","axis":null}}},
  {"transform":[{"filter":"datum.k == 'util'"}],"mark":{"type":"point","shape":"square","size":4290,"filled":true,"opacity":1,"stroke":"#1a1a1a","strokeWidth":1.5,"fill":{"gradient":"linear","x1":0,"y1":0,"x2":1,"y2":1,"stops":[{"offset":0,"color":"#fff"},{"offset":0.0292,"color":"#fff"},{"offset":0.0292,"color":"#222"},{"offset":0.0422,"color":"#222"},{"offset":0.0422,"color":"#fff"},{"offset":0.1006,"color":"#fff"},{"offset":0.1006,"color":"#222"},{"offset":0.1136,"color":"#222"},{"offset":0.1136,"color":"#fff"},{"offset":0.1721,"color":"#fff"},{"offset":0.1721,"color":"#222"},{"offset":0.1851,"color":"#222"},{"offset":0.1851,"color":"#fff"},{"offset":0.2435,"color":"#fff"},{"offset":0.2435,"color":"#222"},{"offset":0.2565,"color":"#222"},{"offset":0.2565,"color":"#fff"},{"offset":0.3149,"color":"#fff"},{"offset":0.3149,"color":"#222"},{"offset":0.3279,"color":"#222"},{"offset":0.3279,"color":"#fff"},{"offset":0.3864,"color":"#fff"},{"offset":0.3864,"color":"#222"},{"offset":0.3994,"color":"#222"},{"offset":0.3994,"color":"#fff"},{"offset":0.4578,"color":"#fff"},{"offset":0.4578,"color":"#222"},{"offset":0.4708,"color":"#222"},{"offset":0.4708,"color":"#fff"},{"offset":0.5292,"color":"#fff"},{"offset":0.5292,"color":"#222"},{"offset":0.5422,"color":"#222"},{"offset":0.5422,"color":"#fff"},{"offset":0.6006,"color":"#fff"},{"offset":0.6006,"color":"#222"},{"offset":0.6136,"color":"#222"},{"offset":0.6136,"color":"#fff"},{"offset":0.6721,"color":"#fff"},{"offset":0.6721,"color":"#222"},{"offset":0.6851,"color":"#222"},{"offset":0.6851,"color":"#fff"},{"offset":0.7435,"color":"#fff"},{"offset":0.7435,"color":"#222"},{"offset":0.7565,"color":"#222"},{"offset":0.7565,"color":"#fff"},{"offset":0.8149,"color":"#fff"},{"offset":0.8149,"color":"#222"},{"offset":0.8279,"color":"#222"},{"offset":0.8279,"color":"#fff"},{"offset":0.8864,"color":"#fff"},{"offset":0.8864,"color":"#222"},{"offset":0.8994,"color":"#222"},{"offset":0.8994,"color":"#fff"},{"offset":0.9578,"color":"#fff"},{"offset":0.9578,"color":"#222"},{"offset":0.9708,"color":"#222"},{"offset":0.9708,"color":"#fff"},{"offset":1,"color":"#fff"}]}},
   "encoding":{"x":{"datum":"sw","type":"nominal","axis":null}}},
  {"transform":[{"filter":"datum.k == 'rech'"}],"mark":{"type":"point","shape":"square","size":4290,"filled":true,"opacity":1,"stroke":"#1a1a1a","strokeWidth":1.5,"fill":{"gradient":"linear","x1":0,"y1":1,"x2":1,"y2":0,"stops":[{"offset":0,"color":"#fff"},{"offset":0.0292,"color":"#fff"},{"offset":0.0292,"color":"#222"},{"offset":0.0422,"color":"#222"},{"offset":0.0422,"color":"#fff"},{"offset":0.1006,"color":"#fff"},{"offset":0.1006,"color":"#222"},{"offset":0.1136,"color":"#222"},{"offset":0.1136,"color":"#fff"},{"offset":0.1721,"color":"#fff"},{"offset":0.1721,"color":"#222"},{"offset":0.1851,"color":"#222"},{"offset":0.1851,"color":"#fff"},{"offset":0.2435,"color":"#fff"},{"offset":0.2435,"color":"#222"},{"offset":0.2565,"color":"#222"},{"offset":0.2565,"color":"#fff"},{"offset":0.3149,"color":"#fff"},{"offset":0.3149,"color":"#222"},{"offset":0.3279,"color":"#222"},{"offset":0.3279,"color":"#fff"},{"offset":0.3864,"color":"#fff"},{"offset":0.3864,"color":"#222"},{"offset":0.3994,"color":"#222"},{"offset":0.3994,"color":"#fff"},{"offset":0.4578,"color":"#fff"},{"offset":0.4578,"color":"#222"},{"offset":0.4708,"color":"#222"},{"offset":0.4708,"color":"#fff"},{"offset":0.5292,"color":"#fff"},{"offset":0.5292,"color":"#222"},{"offset":0.5422,"color":"#222"},{"offset":0.5422,"color":"#fff"},{"offset":0.6006,"color":"#fff"},{"offset":0.6006,"color":"#222"},{"offset":0.6136,"color":"#222"},{"offset":0.6136,"color":"#fff"},{"offset":0.6721,"color":"#fff"},{"offset":0.6721,"color":"#222"},{"offset":0.6851,"color":"#222"},{"offset":0.6851,"color":"#fff"},{"offset":0.7435,"color":"#fff"},{"offset":0.7435,"color":"#222"},{"offset":0.7565,"color":"#222"},{"offset":0.7565,"color":"#fff"},{"offset":0.8149,"color":"#fff"},{"offset":0.8149,"color":"#222"},{"offset":0.8279,"color":"#222"},{"offset":0.8279,"color":"#fff"},{"offset":0.8864,"color":"#fff"},{"offset":0.8864,"color":"#222"},{"offset":0.8994,"color":"#222"},{"offset":0.8994,"color":"#fff"},{"offset":0.9578,"color":"#fff"},{"offset":0.9578,"color":"#222"},{"offset":0.9708,"color":"#222"},{"offset":0.9708,"color":"#fff"},{"offset":1,"color":"#fff"}]}},
   "encoding":{"x":{"datum":"sw","type":"nominal","axis":null}}},
  {"mark":{"type":"text","align":"center","baseline":"middle","fontSize":22,"lineBreak":"\n","lineHeight":25.6},"encoding":{"x":{"datum":"tx","type":"nominal","axis":null},"text":{"field":"label"}}}
 ]
}
],
"resolve":{"scale":{"x":"independent","y":"independent"},"axis":{"x":"independent","y":"independent"}}
}
